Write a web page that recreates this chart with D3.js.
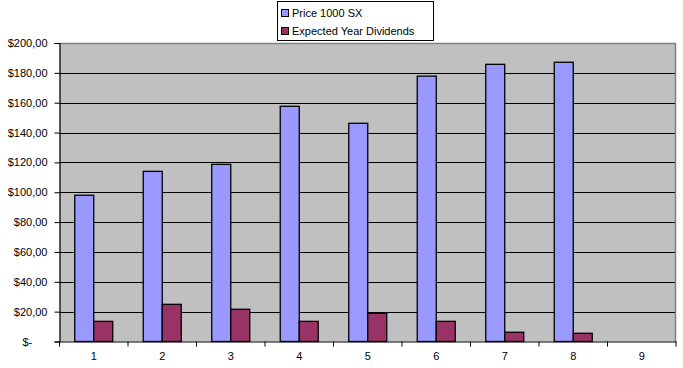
<!DOCTYPE html>
<html><head><meta charset="utf-8">
<script src="https://cdn.jsdelivr.net/npm/d3@7"></script>
<style>body{margin:0;background:#fff}svg{display:block}text{font-family:"Liberation Sans",Arial,sans-serif}</style>
</head><body>
<script>
const categories = ["1","2","3","4","5","6","7","8","9"];
const price = [98.0, 114.0, 118.7, 157.6, 146.2, 177.8, 185.7, 187.1, null];
const dividends = [13.5, 24.9, 21.6, 13.5, 18.9, 13.5, 6.2, 5.5, null];
const seriesNames = ["Price 1000 SX", "Expected Year Dividends"];
const colors = ["#9999FF", "#993366"];
const yTicks = [0,20,40,60,80,100,120,140,160,180,200];

const W=683,H=368;
const m={left:59.5,right:676,top:43,bottom:341.5};
const svg=d3.select("body").append("svg").attr("width",W).attr("height",H);
const x=d3.scaleBand().domain(categories).range([m.left,m.right]).paddingInner(0).paddingOuter(0);
const y=d3.scaleLinear().domain([0,200]).range([m.bottom,m.top]);
const bw=19;

svg.append("rect").attr("x",m.left).attr("y",m.top).attr("width",m.right-m.left).attr("height",m.bottom-m.top).attr("fill","#C0C0C0");
svg.append("path").attr("d",`M${m.left},${m.top+0.5}H${m.right-0.5}V${m.bottom}`).attr("fill","none").attr("stroke","#808080").attr("stroke-width",1.5);
svg.append("g").selectAll("line").data(yTicks.filter(d=>d>0&&d<200)).join("line")
 .attr("x1",m.left).attr("x2",m.right-1).attr("y1",d=>Math.round(y(d))+0.5).attr("y2",d=>Math.round(y(d))+0.5)
 .attr("stroke","#000").attr("stroke-width",1);

const series=[price,dividends];
series.forEach((vals,si)=>{
  svg.append("g").selectAll("rect").data(vals.map((v,i)=>({v,c:categories[i]})).filter(d=>d.v!=null)).join("rect")
   .attr("x",d=>x(d.c)+x.bandwidth()/2-bw+si*bw)
   .attr("y",d=>y(d.v)).attr("width",bw).attr("height",d=>y(0)-y(d.v))
   .attr("fill",colors[si]).attr("stroke","#000").attr("stroke-width",1.3);
});

const ya=svg.append("g").attr("transform",`translate(${m.left},0)`)
 .call(d3.axisLeft(y).tickValues(yTicks).tickSize(5).tickPadding(7)
   .tickFormat(d=>d===0?"$-     ":"$"+d3.format(".2f")(d).replace(".",",")));
ya.select(".domain").attr("stroke","#000").attr("stroke-width",1.2);
ya.selectAll("text").attr("font-size",11).attr("fill","#000").style("white-space","pre");
const xa=svg.append("g").attr("transform",`translate(0,${m.bottom})`)
 .call(d3.axisBottom(x).tickSize(0).tickPadding(11));
xa.select(".domain").attr("stroke","#000").attr("stroke-width",1.2);
xa.selectAll("text").attr("font-size",11).attr("fill","#000");
xa.append("g").selectAll("line").data(d3.range(categories.length+1)).join("line")
 .attr("x1",i=>m.left+i*x.bandwidth()).attr("x2",i=>m.left+i*x.bandwidth()).attr("y1",0).attr("y2",5).attr("stroke","#000");

const lg=svg.append("g");
lg.append("rect").attr("x",277.5).attr("y",1.5).attr("width",156).attr("height",39).attr("fill","#fff").attr("stroke","#000").attr("stroke-width",1);
seriesNames.forEach((n,i)=>{
  const yy=13+i*18;
  lg.append("rect").attr("x",281.5).attr("y",yy-3.5).attr("width",7).attr("height",7).attr("fill",colors[i]).attr("stroke","#000");
  lg.append("text").attr("x",292).attr("y",yy+4).attr("font-size",11).text(n);
});
</script>
</body></html>
